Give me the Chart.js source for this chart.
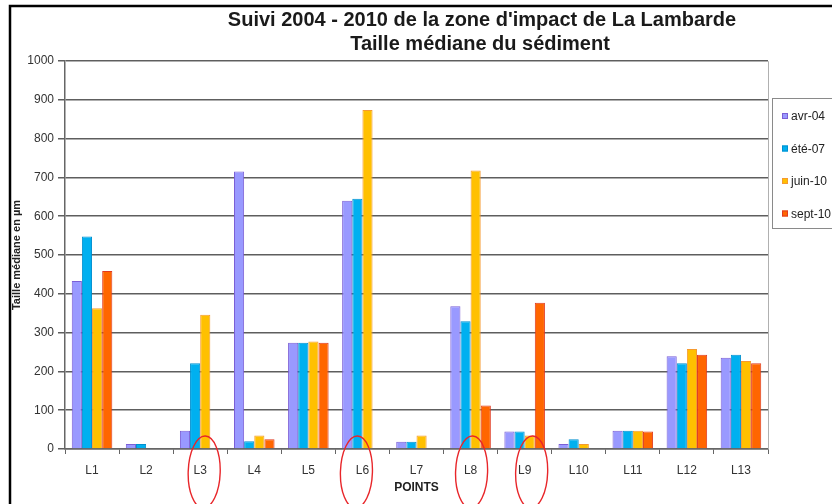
<!DOCTYPE html>
<html lang="fr">
<head>
    <meta charset="UTF-8">
    <title>Taille médiane du sédiment</title>
    <script src="https://cdn.jsdelivr.net/npm/chart.js"></script>
    <style>
        html, body { margin: 0; padding: 0; background: #fff; }
        #wrap { width: 832px; height: 504px; }
    </style>
</head>
<body>
    <div id="wrap"><canvas id="graphique" width="832" height="504"></canvas></div>
    <script>
        // Points de mesure et valeurs lues (taille médiane en µm)
        const points = ['L1', 'L2', 'L3', 'L4', 'L5', 'L6', 'L7', 'L8', 'L9', 'L10', 'L11', 'L12', 'L13'];
        const avr04  = [433, 13, 47, 715, 274, 640, 19, 368, 45, 13, 47, 239, 235];
        const ete07  = [548, 13, 221, 20, 274, 645, 19, 329, 45, 25, 47, 221, 243];
        const juin10 = [363, null, 346, 35, 277, 874, 35, 718, 35, 13, 47, 258, 227];
        const sept10 = [459, null, null, 25, 274, null, null, 112, 377, null, 45, 243, 221];
        const yTicks = [0, 100, 200, 300, 400, 500, 600, 700, 800, 900, 1000];

        // points entourés en rouge sur la figure d'origine
        const entoures = ['L3', 'L6', 'L8', 'L9'];
        const decalages = [4, -6, 1, 7];

        const police = '"Liberation Sans", Arial, sans-serif';

        // cadre, bordure de la zone de tracé, titre et légende encadrée
        const decor = {
            id: 'decor',
            beforeDraw(chart) {
                const ctx = chart.ctx;
                ctx.save();
                ctx.fillStyle = '#fff';
                ctx.fillRect(0, 0, chart.width, chart.height);
                ctx.restore();
            },
            afterDraw(chart) {
                const ctx = chart.ctx;
                const a = chart.chartArea;
                ctx.save();
                // bordure grise de la zone de tracé
                ctx.strokeStyle = '#b0b0b0';
                ctx.lineWidth = 1;
                ctx.beginPath();
                ctx.moveTo(a.left, a.top + 0.5);
                ctx.lineTo(a.right + 0.5, a.top + 0.5);
                ctx.lineTo(a.right + 0.5, a.bottom);
                ctx.stroke();

                // cadre noir
                ctx.strokeStyle = '#000';
                ctx.lineWidth = 2.5;
                ctx.beginPath();
                ctx.moveTo(10, chart.height);
                ctx.lineTo(10, 6);
                ctx.lineTo(chart.width, 6);
                ctx.stroke();

                // titre
                ctx.fillStyle = '#1a1a1a';
                ctx.font = 'bold 20px ' + police;
                ctx.textAlign = 'center';
                ctx.textBaseline = 'middle';
                ctx.fillText("Suivi 2004 - 2010 de la zone d'impact de La Lambarde", 482, 20);
                ctx.fillText('Taille médiane du sédiment', 480, 44);

                // légende
                ctx.strokeStyle = '#8a8a8a';
                ctx.lineWidth = 1;
                ctx.strokeRect(772.5, 98.5, 80, 130);
                ctx.font = '12px ' + police;
                ctx.textAlign = 'left';
                chart.data.datasets.forEach((ds, i) => {
                    const y = 116 + i * 32.5;
                    ctx.fillStyle = ds.backgroundColor;
                    ctx.fillRect(782, y - 3, 6, 6);
                    ctx.strokeStyle = ds.borderColor;
                    ctx.strokeRect(782.5, y - 2.5, 5, 5);
                    ctx.fillStyle = '#222';
                    ctx.fillText(ds.label, 791, y + 1);
                });

                // ellipses rouges
                const x = chart.scales.x;
                ctx.strokeStyle = '#e8262a';
                ctx.lineWidth = 1.4;
                entoures.forEach((p, i) => {
                    const cx = x.getPixelForValue(points.indexOf(p)) + decalages[i];
                    ctx.beginPath();
                    ctx.ellipse(cx, 472, 16, 36, 0.03, 0, Math.PI * 2);
                    ctx.stroke();
                });
                ctx.restore();
            }
        };

        const ctx = document.getElementById('graphique').getContext('2d');
        new Chart(ctx, {
            type: 'bar',
            data: {
                labels: points,
                datasets: [
                    { label: 'avr-04', data: avr04, backgroundColor: '#9999FF', borderColor: '#7b5fd6' },
                    { label: 'été-07', data: ete07, backgroundColor: '#00B0F0', borderColor: '#0090d0' },
                    { label: 'juin-10', data: juin10, backgroundColor: '#FFC000', borderColor: '#f59a30' },
                    { label: 'sept-10', data: sept10, backgroundColor: '#FF6600', borderColor: '#e03a20' }
                ]
            },
            options: {
                responsive: false,
                animation: false,
                devicePixelRatio: 1,
                layout: { padding: { left: 0, top: 61, right: 64, bottom: 0 } },
                datasets: { bar: { borderWidth: 1, categoryPercentage: 0.75, barPercentage: 1.0 } },
                plugins: {
                    legend: { display: false },
                    title: { display: false },
                    tooltip: { enabled: false }
                },
                scales: {
                    x: {
                        afterFit: s => { s.height = 55; },
                        grid: { drawOnChartArea: false, tickLength: 5, color: '#666', offset: true },
                        border: { color: '#666', width: 1.5 },
                        ticks: { color: '#333', font: { family: police, size: 12 }, padding: 9 },
                        title: { display: true, text: 'POINTS', color: '#222',
                                 font: { family: police, size: 12, weight: 'bold' }, padding: { top: 0, bottom: 9 } }
                    },
                    y: {
                        min: 0,
                        max: 1000,
                        afterFit: s => { s.width = 65; },
                        afterBuildTicks: s => { s.ticks = yTicks.map(v => ({ value: v })); },
                        grid: { color: '#5e5e5e', lineWidth: 1.5, tickLength: 7 },
                        border: { color: '#666', width: 1.5 },
                        ticks: { color: '#333', font: { family: police, size: 12 }, padding: 4,
                                 callback: v => String(v) },
                        title: { display: true, text: 'Taille médiane en µm', color: '#222',
                                 font: { family: police, size: 11, weight: 'bold' }, padding: { top: 10, bottom: 0 } }
                    }
                }
            },
            plugins: [decor]
        });
    </script>
</body>
</html>
